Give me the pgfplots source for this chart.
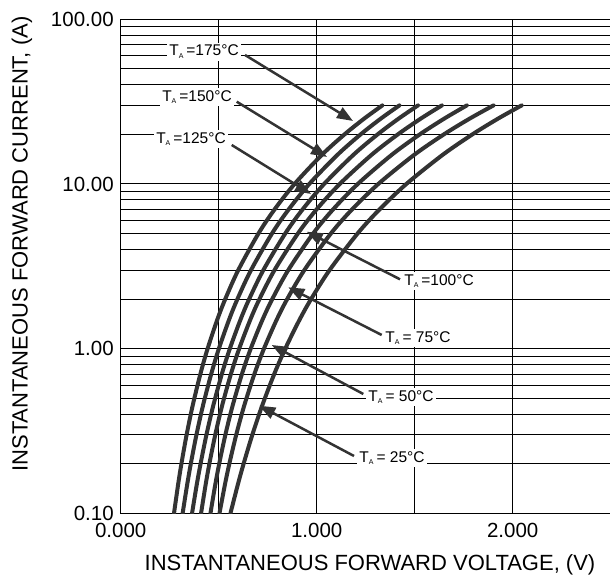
\documentclass[border=0pt]{standalone}
\usepackage{pgfplots}
\pgfplotsset{compat=1.18}
\usepackage{fontspec}
\setmainfont{Liberation Sans}
\usetikzlibrary{arrows.meta}
\definecolor{curvec}{HTML}{333333}
\newcommand{\TA}{T\raisebox{-2.5pt}{\fontsize{7}{8}\selectfont A}\hspace{3pt}}
\begin{document}
\fontsize{20.5pt}{24pt}\selectfont
\begin{tikzpicture}[x=1pt,y=1pt]
\useasboundingbox (0,0) rectangle (610,580);
\begin{axis}[
  at={(120.7pt,66.7pt)}, anchor=south west,
  scale only axis, width=490pt, height=494pt,
  xmin=0, xmax=2.5, ymode=log, ymin=0.1, ymax=100,
  xtick={0,0.5,1,1.5,2,2.5}, xticklabels={0.000,,1.000,,2.000,},
  ytick={0.1,1,10,100}, yticklabels={0.10,1.00,10.00,100.00},
  minor ytick={0.2,0.3,0.4,0.5,0.6,0.7,0.8,0.9,2,3,4,5,6,7,8,9,20,30,40,50,60,70,80,90},
  major tick length=0pt, minor tick length=0pt,
  grid=both,
  major grid style={black, line width=1pt},
  minor grid style={black, line width=1pt},
  axis line style={black, line width=1pt},
  /pgf/number format/assume math mode=true,
  tick label style={font=\fontsize{20.5}{24}\selectfont, black},
  xticklabel style={yshift=-3pt},
  clip=true,
]
\addplot[curvec, line width=4pt, smooth, line cap=round] coordinates {
(0.2720,0.1) (0.2931,0.15) (0.3098,0.2) (0.3363,0.3) (0.3670,0.45) (0.4063,0.7) (0.4434,1) (0.4928,1.5) (0.5334,2) (0.5999,3) (0.7028,5) (0.7848,7) (0.8870,10) (1.0258,15) (1.1418,20) (1.2434,25) (1.3349,30)};
\addplot[curvec, line width=4pt, smooth, line cap=round] coordinates {
(0.3160,0.1) (0.3394,0.15) (0.3577,0.2) (0.3865,0.3) (0.4196,0.45) (0.4616,0.7) (0.5009,1) (0.5530,1.5) (0.5955,2) (0.6649,3) (0.7718,5) (0.8568,7) (0.9621,10) (1.1051,15) (1.2241,20) (1.3283,25) (1.4220,30)};
\addplot[curvec, line width=4pt, smooth, line cap=round] coordinates {
(0.3640,0.1) (0.3883,0.15) (0.4075,0.2) (0.4375,0.3) (0.4721,0.45) (0.5158,0.7) (0.5569,1) (0.6112,1.5) (0.6555,2) (0.7279,3) (0.8394,5) (0.9278,7) (1.0377,10) (1.1866,15) (1.3107,20) (1.4193,25) (1.5169,30)};
\addplot[curvec, line width=4pt, smooth, line cap=round] coordinates {
(0.4100,0.1) (0.4336,0.15) (0.4524,0.2) (0.4825,0.3) (0.5173,0.45) (0.5621,0.7) (0.6046,1) (0.6613,1.5) (0.7080,2) (0.7849,3) (0.9040,5) (0.9991,7) (1.1177,10) (1.2790,15) (1.4140,20) (1.5323,25) (1.6389,30)};
\addplot[curvec, line width=4pt, smooth, line cap=round] coordinates {
(0.4580,0.1) (0.4828,0.15) (0.5026,0.2) (0.5341,0.3) (0.5709,0.45) (0.6184,0.7) (0.6634,1) (0.7236,1.5) (0.7733,2) (0.8550,3) (0.9817,5) (1.0832,7) (1.2096,10) (1.3818,15) (1.5259,20) (1.6522,25) (1.7660,30)};
\addplot[curvec, line width=4pt, smooth, line cap=round] coordinates {
(0.5040,0.1) (0.5321,0.15) (0.5543,0.2) (0.5895,0.3) (0.6300,0.45) (0.6819,0.7) (0.7309,1) (0.7960,1.5) (0.8495,2) (0.9370,3) (1.0722,5) (1.1801,7) (1.3142,10) (1.4965,15) (1.6487,20) (1.7820,25) (1.9020,30)};
\addplot[curvec, line width=4pt, smooth, line cap=round] coordinates {
(0.5600,0.1) (0.5980,0.15) (0.6271,0.2) (0.6717,0.3) (0.7216,0.45) (0.7831,0.7) (0.8396,1) (0.9127,1.5) (0.9715,2) (1.0658,3) (1.2084,5) (1.3202,7) (1.4574,10) (1.6418,15) (1.7942,20) (1.9269,25) (2.0458,30)};
\end{axis}
% annotation arrows
\begin{scope}[curvec, line width=2.5pt, -{Triangle[length=16pt,width=12pt]}]
\draw (245,525) -- (353,459);
\draw (236.7,478.3) -- (327,423);
\draw (231.7,435) -- (311,386);
\draw (400,300.7) -- (306.7,348.3);
\draw (381.7,245) -- (288.3,292.7);
\draw (363.3,186) -- (271.7,235);
\draw (354,124) -- (259.3,174.3);
\end{scope}
\begin{scope}[every node/.style={fill=white, inner sep=2.5pt, font=\fontsize{15.5}{18}\selectfont}]
\node at (204,528.3) {\TA=175°C};
\node at (197,483) {\TA=150°C};
\node at (191,441) {\TA=125°C};
\node at (439,299) {\TA=100°C};
\node at (418,242) {\TA= 75°C};
\node at (401,183) {\TA= 50°C};
\node at (392,122) {\TA= 25°C};
\end{scope}
\node[font=\fontsize{22}{26}\selectfont] at (370,15) {INSTANTANEOUS FORWARD VOLTAGE, (V)};
\node[font=\fontsize{22}{26}\selectfont, rotate=90] at (22,336) {INSTANTANEOUS FORWARD CURRENT, (A)};
\end{tikzpicture}
\end{document}
